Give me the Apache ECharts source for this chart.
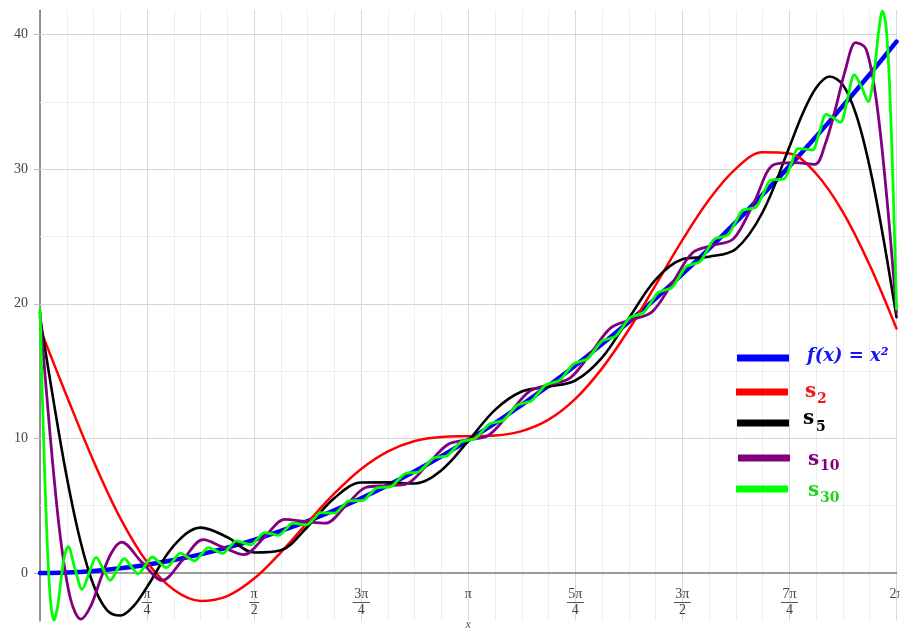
<!DOCTYPE html>
<html><head><meta charset="utf-8">
<script src="https://cdn.jsdelivr.net/npm/echarts@6/dist/echarts.min.js"></script>
<style>html,body{margin:0;padding:0;background:#fff}#c{width:900px;height:630px}</style>
</head><body><div id="c"></div>
<script>
// ---- tick labels ----
const xTickNum = ['', 'π', 'π', '3π', 'π', '5π', '3π', '7π', '2π'];
const xTickDen = ['', '4', '2', '4', '', '4', '2', '4', ''];
const yTickValues = [0, 10, 20, 30, 40];
const yMajorGrid = [10, 20, 30, 40];
const yMinorGrid = [5, 15, 25, 35];

// ---- f(x) = x^2 ----
const fX = [0,0.196,0.393,0.589,0.785,0.982,1.178,1.374,1.571,1.767,1.963,2.160,2.356,2.553,2.749,2.945,3.142,3.338,3.534,3.731,3.927,4.123,4.320,4.516,4.712,4.909,5.105,5.301,5.498,5.694,5.890,6.087,6.283];
const fY = [0,0.039,0.154,0.347,0.617,0.964,1.388,1.889,2.467,3.123,3.855,4.665,5.552,6.515,7.556,8.674,9.870,11.142,12.491,13.918,15.421,17.002,18.660,20.395,22.207,24.096,26.062,28.105,30.226,32.423,34.698,37.049,39.478];

// ---- s2 ----
const s2X = fX;
const s2Y = [18.16,13.15,8.31,4.08,0.82,-1.25,-2.07,-1.71,-0.41,1.54,3.76,5.91,7.73,9.04,9.81,10.11,10.16,10.21,10.54,11.39,12.93,15.20,18.09,21.38,24.73,27.75,30.04,31.25,31.16,29.66,26.81,22.86,18.16];

// ---- s5 ----
const s5X = [0,0.098,0.196,0.295,0.393,0.491,0.589,0.687,0.785,0.982,1.178,1.374,1.571,1.767,1.963,2.160,2.356,2.553,2.749,2.945,3.142,3.338,3.534,3.731,3.927,4.123,4.320,4.516,4.712,4.909,5.105,5.301,5.498,5.596,5.694,5.792,5.890,5.989,6.087,6.185,6.283];
const s5Y = [19.01,12.86,7.15,2.43,-0.91,-2.75,-3.16,-2.45,-1.04,2.03,3.37,2.66,1.52,1.69,3.44,5.57,6.72,6.73,6.65,7.64,9.81,12.12,13.48,13.84,14.30,16.00,18.93,21.80,23.30,23.50,24.07,26.80,31.66,34.15,36.05,36.88,36.26,33.99,30.14,24.98,19.01];

// ---- s10 ----
const s10X = [0,0.0748,0.1496,0.2244,0.2992,0.3740,0.4488,0.5236,0.5984,0.7480,0.8976,1.0472,1.1968,1.3464,1.4960,1.6456,1.7952,1.9448,2.0944,2.2440,2.3936,2.5432,2.6928,2.8424,2.9920,3.1416,3.2912,3.4408,3.5904,3.7400,3.8896,4.0392,4.1888,4.3384,4.4880,4.6376,4.7872,4.9368,5.0864,5.2360,5.3856,5.5352,5.6848,5.7596,5.8344,5.9092,5.9840,6.0588,6.1336,6.2084,6.2832];
const s10Y = [19.36,10.19,2.65,-1.95,-3.42,-2.42,-0.33,1.49,2.29,0.79,-0.55,0.97,2.48,1.90,1.37,2.65,3.98,3.83,3.70,5.00,6.37,6.49,6.64,8.06,9.55,9.89,10.23,11.83,13.50,14.00,14.49,16.31,18.23,18.82,19.38,21.52,23.79,24.34,24.82,27.48,30.35,30.49,30.36,31.84,34.44,37.41,39.40,38.95,35.23,28.30,19.36];

// ---- s30 ----
const s30X = [0,0.0258,0.0515,0.0773,0.1030,0.1288,0.1545,0.1803,0.2060,0.2575,0.3090,0.3605,0.4120,0.4635,0.5150,0.5665,0.6180,0.6695,0.7210,0.7725,0.8240,0.8755,0.9270,0.9785,1.0300,1.0815,1.1330,1.1845,1.2360,1.2875,1.3390,1.3905,1.4420,1.4935,1.5450,1.5965,1.6480,1.6995,1.7511,1.8026,1.8541,1.9056,1.9571,2.0086,2.0601,2.1116,2.1631,2.2146,2.2661,2.3176,2.3691,2.4206,2.4721,2.5236,2.5751,2.6266,2.6781,2.7296,2.7811,2.8326,2.8841,2.9356,2.9871,3.0386,3.0901,3.1416,3.1931,3.2446,3.2961,3.3476,3.3991,3.4506,3.5021,3.5536,3.6051,3.6566,3.7081,3.7596,3.8111,3.8626,3.9141,3.9656,4.0171,4.0686,4.1201,4.1716,4.2231,4.2746,4.3261,4.3776,4.4291,4.4806,4.5321,4.5836,4.6351,4.6866,4.7381,4.7896,4.8411,4.8926,4.9441,4.9956,5.0471,5.0986,5.1502,5.2017,5.2532,5.3047,5.3562,5.4077,5.4592,5.5107,5.5622,5.6137,5.6652,5.7167,5.7682,5.8197,5.8712,5.9227,5.9742,6.0257,6.0772,6.1029,6.1287,6.1545,6.1802,6.2059,6.2317,6.2574,6.2832];
const s30Y = [19.61,10.19,2.56,-2.08,-3.51,-2.52,-0.47,1.29,1.96,0.27,-1.21,0.01,1.16,0.29,-0.54,0.27,1.06,0.48,-0.06,0.57,1.19,0.79,0.40,0.94,1.48,1.18,0.90,1.39,1.88,1.67,1.46,1.93,2.39,2.24,2.09,2.55,3.00,2.90,2.80,3.25,3.70,3.64,3.58,4.03,4.48,4.46,4.45,4.90,5.36,5.37,5.39,5.86,6.33,6.37,6.42,6.90,7.38,7.45,7.53,8.02,8.53,8.62,8.72,9.23,9.75,9.87,9.99,10.53,11.07,11.21,11.35,11.91,12.47,12.63,12.79,13.37,13.96,14.13,14.31,14.92,15.54,15.72,15.91,16.55,17.21,17.40,17.59,18.27,18.96,19.16,19.36,20.08,20.81,21.01,21.20,21.96,22.75,22.94,23.12,23.94,24.78,24.95,25.12,26.00,26.91,27.05,27.18,28.15,29.15,29.23,29.29,30.38,31.52,31.49,31.42,32.71,34.07,33.82,33.48,35.17,37.00,36.13,35.01,35.95,38.01,40.39,41.74,40.68,36.36,28.94,19.61];

function pairs(xs, ys) { return xs.map((x, i) => [x, ys[i]]); }

const chart = echarts.init(document.getElementById('c'), null, {renderer: 'canvas'});
const PI = Math.PI;
const serif = "'Liberation Serif', 'DejaVu Serif', serif";

const Y_MIN = -3.55, Y_MAX = 41.8, GRID_TOP = 10.3, GRID_BOTTOM = 9.2;
// distance (px) from the grid bottom edge up to the y = 0 line
const zeroOffset = (0 - Y_MIN) / (Y_MAX - Y_MIN) * (630 - GRID_TOP - GRID_BOTTOM);

function curve(name, xs, ys, color, width, z, smooth) {
  return {
    name, type: 'line', data: pairs(xs, ys), showSymbol: false, symbol: 'none',
    smooth: smooth, z: z, clip: true, silent: true, animation: false,
    lineStyle: {color: color, width: width, cap: 'round', join: 'round'}
  };
}

const gridLines = {
  type: 'line', data: [], silent: true, z: 1, animation: false,
  markLine: {
    silent: true, symbol: ['none', 'none'], animation: false, z: 1,
    label: {show: false},
    data: yMajorGrid.map(v => ({yAxis: v, lineStyle: {color: '#d4d4d4', width: 1, type: 'solid'}}))
      .concat(yMinorGrid.map(v => ({yAxis: v, lineStyle: {color: '#eeeeee', width: 1, type: 'solid'}})))
  }
};

const legendItems = [
  {color: '#0000ff', y: 358, x1: 737},
  {color: '#ff0000', y: 392, x1: 736},
  {color: '#000000', y: 423, x1: 737},
  {color: '#800080', y: 458, x1: 738},
  {color: '#00ff00', y: 489, x1: 736}
];
const graphics = legendItems.map(it => ({
  type: 'line', silent: true, z: 50,
  shape: {x1: it.x1, y1: it.y, x2: it.x1 + 52, y2: it.y},
  style: {stroke: it.color, lineWidth: 7}
}));
const lf = "'DejaVu Serif', serif";
function txt(t, x, y, color, size, italic) {
  return {type: 'text', silent: true, z: 50, x: x, y: y,
    style: {text: t, fill: color, font: (italic ? 'italic ' : '') + 'bold ' + size + 'px ' + lf,
      textAlign: 'left', textVerticalAlign: 'middle', verticalAlign: 'middle'}};
}
graphics.push(txt('f(x) = x²', 807, 356, '#1515f5', 18, true));
graphics.push(txt('s', 805, 392, '#f01818', 20));
graphics.push(txt('2', 817, 399, '#f01818', 14));
graphics.push(txt('s', 803, 419, '#000000', 20));
graphics.push(txt('5', 816, 427, '#000000', 14));
graphics.push(txt('s', 808, 460, '#800080', 20));
graphics.push(txt('10', 820, 466, '#800080', 14));
graphics.push(txt('s', 808, 491, '#1ed41e', 20));
graphics.push(txt('30', 820, 498, '#1ed41e', 14));

const option = {
  backgroundColor: '#ffffff',
  animation: false,
  grid: {left: 40, right: 3.5, top: GRID_TOP, bottom: GRID_BOTTOM, containLabel: false, outerBoundsMode: 'none'},
  xAxis: {
    type: 'value', min: 0, max: 2 * PI, interval: PI / 4,
    offset: -zeroOffset,
    name: 'x', nameLocation: 'middle', nameGap: 46, nameMoveOverlap: false,
    nameTextStyle: {fontFamily: serif, fontStyle: 'italic', fontSize: 12, color: '#555'},
    axisLine: {show: true, onZero: false, lineStyle: {color: '#7a7a7a', width: 1.6}},
    axisTick: {show: false},
    splitLine: {show: true, lineStyle: {color: '#d8d8d8', width: 1}},
    minorTick: {show: false, splitNumber: 4},
    minorSplitLine: {show: true, lineStyle: {color: '#eeeeee', width: 1}},
    axisLabel: {
      margin: 15, fontFamily: serif, fontSize: 14, color: '#444', hideOverlap: false,
      formatter: function (v) {
        const i = Math.round(v / (PI / 4));
        if (Math.abs(v - i * PI / 4) > 1e-6 || !xTickNum[i]) return '';
        if (!xTickDen[i]) return '{n|' + xTickNum[i] + '}';
        const bar = xTickNum[i].length > 1 ? 'b2' : 'b1';
        return '{n|' + xTickNum[i] + '}\n{' + bar + '|}\n{d|' + xTickDen[i] + '}';
      },
      rich: {
        n: {fontFamily: serif, fontSize: 14, color: '#444', lineHeight: 13, align: 'center'},
        d: {fontFamily: serif, fontSize: 14, color: '#444', lineHeight: 13, align: 'center'},
        b1: {width: 10, height: 1, lineHeight: 3, backgroundColor: '#555', align: 'center'},
        b2: {width: 17, height: 1, lineHeight: 3, backgroundColor: '#555', align: 'center'}
      }
    }
  },
  yAxis: {
    type: 'value', min: Y_MIN, max: Y_MAX,
    axisLine: {show: true, onZero: false, lineStyle: {color: '#7a7a7a', width: 1.6}},
    axisTick: {show: true, length: 6, customValues: yTickValues, lineStyle: {color: '#bbbbbb'}},
    splitLine: {show: false},
    axisLabel: {show: true, customValues: yTickValues, margin: 12, fontFamily: serif, fontSize: 14, color: '#444'}
  },
  graphic: graphics,
  series: [
    gridLines,
    curve('f', fX, fY, '#0000ff', 4.5, 3, 0.3),
    curve('s2', s2X, s2Y, '#ff0000', 2.5, 4, 0.35),
    curve('s5', s5X, s5Y, '#000000', 2.6, 5, 0.35),
    curve('s10', s10X, s10Y, '#800080', 2.8, 6, 0.33),
    curve('s30', s30X, s30Y, '#00ff00', 2.8, 7, 0.33)
  ]
};
chart.setOption(option);
</script>
</body></html>
